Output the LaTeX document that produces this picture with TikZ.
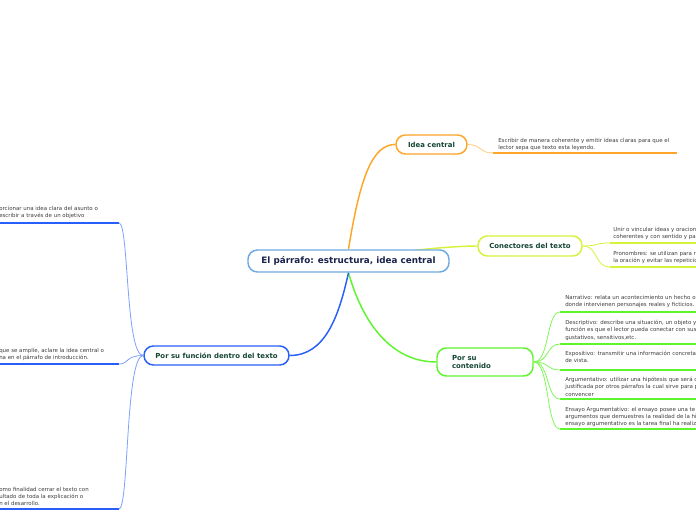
\documentclass[tikz,border=0pt]{standalone}
\usepackage{fontspec}
\setmainfont{DejaVu Sans}
\usetikzlibrary{backgrounds}

\definecolor{titulo}{RGB}{25,35,75}
\definecolor{verdetexto}{RGB}{20,70,50}
\definecolor{gristexto}{RGB}{60,60,60}
\definecolor{azulcentro}{RGB}{110,170,225}
\definecolor{naranja}{RGB}{255,165,40}
\definecolor{amarillo}{RGB}{215,242,60}
\definecolor{verde}{RGB}{95,245,45}
\definecolor{azul}{RGB}{40,95,250}
\definecolor{azulclaro}{RGB}{125,160,255}

\begin{document}
\begin{tikzpicture}[x=0.75pt,y=-0.75pt,
	tema/.style={draw, rounded corners=7pt, line width=1.1pt, fill=white, inner sep=0pt,
		font=\bfseries\fontsize{5.2}{6.3}\selectfont, text=verdetexto},
	hoja/.style={anchor=north west, inner sep=0pt, align=left, text=gristexto,
		font=\fontsize{4.1}{5.4}\selectfont},
	rama/.style={line width=1.1pt},
	ramita/.style={line width=0.6pt},
	subraya/.style={line width=1.5pt}]
		\useasboundingbox (0,0) rectangle (696,520);
		\clip (0,0) rectangle (696,520);
		% nodos principales
		\node[tema, draw=azulcentro, minimum width=150.75pt, minimum height=16.5pt, text=titulo,
			font=\bfseries\fontsize{6.6}{8}\selectfont] (central) at (348.5,261) {El párrafo: estructura, idea central};
		\node[tema, draw=naranja, minimum width=53.25pt, minimum height=14.25pt] (idea) at (431.5,144.5) {Idea central};
		\node[tema, draw=amarillo, minimum width=78pt, minimum height=15pt] (conect) at (530,246) {Conectores del texto};
		\node[tema, draw=verde, minimum width=72pt, minimum height=21pt, inner xsep=11.25pt,
			text width=49.5pt, align=left] (cont) at (485,362) {Por su\\contenido};
		\node[tema, draw=azul, minimum width=108.75pt, minimum height=14.25pt] (func) at (216.5,355.5) {Por su función dentro del texto};
		% hojas: idea central
		\coordinate (u-idea) at (493,153);
		\node[hoja] (h-idea) at (498,138) {Escribir de manera coherente y emitir ideas claras para que el\\lector sepa que texto esta leyendo.};
		% hojas: conectores
		\coordinate (u-con1) at (610,243);
		\coordinate (u-con2) at (610,267);
		\node[hoja] (h-con1) at (613,227) {Unir o vincular ideas y oracion\\coherentes y con sentido y pa};
		\node[hoja] (h-con2) at (613,251) {Pronombres: se utilizan para r\\la oración y evitar las repeticio};
		% hojas: contenido
		\coordinate (u-cont1) at (560,312);
		\coordinate (u-cont2) at (560,344);
		\coordinate (u-cont3) at (560,370);
		\coordinate (u-cont4) at (560,399);
		\coordinate (u-cont5) at (560,429);
		\node[hoja] (h-cont1) at (565,295) {Narrativo: relata un acontecimiento un hecho o\\donde intervienen personajes reales y ficticios.};
		\node[hoja] (h-cont2) at (565,320) {Descriptivo: describe una situación, un objeto y\\función es que el lector pueda conectar con sus\\gustativos, sensitivos,etc.};
		\node[hoja] (h-cont3) at (565,351) {Expositivo: transmitir una información concreta\\de vista.};
		\node[hoja] (h-cont4) at (565,377) {Argumentativo: utilizar una hipótesis que será c\\justificada por otros párrafos la cual sirve para p\\convencer};
		\node[hoja] (h-cont5) at (565,407) {Ensayo Argumentativo: el ensayo posee una te\\argumentos que demuestres la realidad de la hi\\ensayo argumentativo es la tarea final ha realiz};
		% hojas: funcion
		\coordinate (u-func1) at (119,223);
		\coordinate (u-func2) at (119,364);
		\coordinate (u-func3) at (119,509);
		\node[hoja] (h-func1) at (-1,206) {orcionar una idea clara del asunto o\\escribir a través de un objetivo};
		\node[hoja] (h-func2) at (-1,348) {que se amplíe, aclare la idea central o\\na en el párrafo de introducción.};
		\node[hoja] (h-func3) at (-1,487) {omo finalidad cerrar el texto con\\ultado de toda la explicación o\\n el desarrollo.};
		% subrayados
		\draw[subraya, naranja] (u-idea) -- ++(184,0);
		\draw[subraya, amarillo] (u-con1) -- ++(90,0);
		\draw[subraya, amarillo] (u-con2) -- ++(90,0);
		\foreach \i in {1,...,5}
			\draw[subraya, verde] (u-cont\i) -- ++(140,0);
		\foreach \i in {1,2,3}
			\draw[subraya, azul] (u-func\i) -- ++(-125,0);
		% ramas
		\begin{scope}[on background layer]
			\draw[rama, naranja] (central.north) .. controls +(12,-75) and +(-22,0) .. (idea.west);
			\draw[rama, amarillo] (central.center) .. controls (400,250) and (455,246) .. (conect.west);
			\draw[rama, verde] (central.south) .. controls +(14,50) and +(-45,0) .. (cont.west);
			\draw[rama, azul] (central.south) .. controls +(-10,45) and +(35,0) .. (func.east);
		\end{scope}
		\draw[ramita, naranja!60] (idea.east) .. controls +(14,0) and +(-14,0) .. (u-idea);
		\foreach \i in {1,2}
			\draw[ramita, amarillo] (conect.east) .. controls +(16,0) and +(-16,0) .. (u-con\i);
		\foreach \i in {1,...,5}
			\draw[ramita, verde!80] (cont.east) .. controls +(16,0) and +(-14,0) .. (u-cont\i);
		\foreach \i in {1,2,3}
			\draw[ramita, azulclaro] (func.west) .. controls +(-18,0) and +(10,0) .. (u-func\i);
\end{tikzpicture}
\end{document}
